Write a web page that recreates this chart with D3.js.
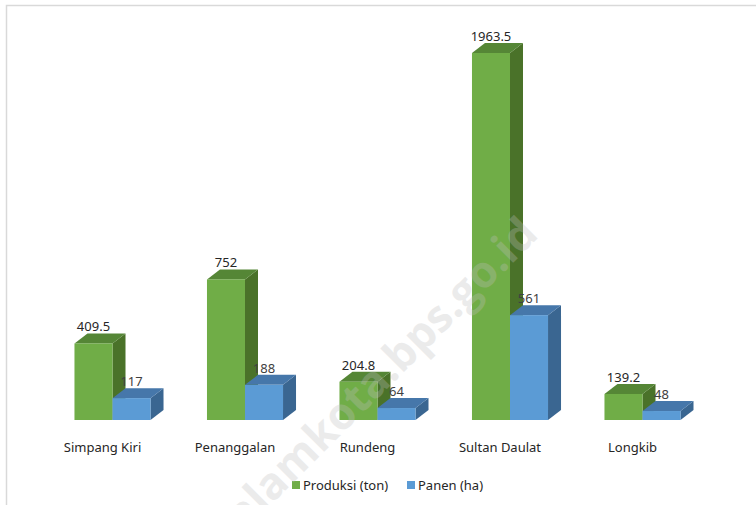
<!DOCTYPE html>
<html lang="id">
<head>
  <meta charset="UTF-8" />
  <title>Produksi dan Panen</title>
  <script src="https://d3js.org/d3.v7.min.js"></script>
  <style>
    html, body { margin: 0; padding: 0; background: #fff; }
    svg { display: block; font-family: "Noto Sans", "Open Sans", sans-serif; }
    .cat-label { font-size: 13px; fill: #262626; text-anchor: middle; }
    .val-label { font-size: 13px; text-anchor: middle; }
    .legend-text { font-size: 13px; fill: #262626; }
    .watermark { font-family: "Open Sans", sans-serif; font-weight: bold; font-size: 44px; fill: #bfbfbf; opacity: 0.3; }
  </style>
</head>
<body>
  <svg width="756" height="505"></svg>
  <script>
    const categories = ["Simpang Kiri", "Penanggalan", "Rundeng", "Sultan Daulat", "Longkib"];
    const seriesNames = ["Produksi (ton)", "Panen (ha)"];
    const produksi = [409.5, 752, 204.8, 1963.5, 139.2];
    const panen = [117, 188, 64, 561, 48];

    const colors = {
      "Produksi (ton)": { front: "#70ad47", side: "#4a7229", top: "#558636", text: "#262626" },
      "Panen (ha)": { front: "#5b9bd5", side: "#3a6691", top: "#4677aa", text: "#404040" }
    };

    const values = { "Produksi (ton)": produksi, "Panen (ha)": panen };
    const depthX = 13, depthY = 10;

    const svg = d3.select("svg");

    // frame
    svg.append("rect")
      .attr("x", 6.5).attr("y", 5.5)
      .attr("width", 800).attr("height", 600)
      .attr("fill", "none")
      .attr("stroke", "#d9d9d9")
      .attr("stroke-width", 1.5);

    const x = d3.scaleBand()
      .domain(categories)
      .range([46.25, 708.75])
      .paddingInner(0.426)
      .paddingOuter(0.213);

    const xs = d3.scaleBand()
      .domain(seriesNames)
      .range([0, x.bandwidth()]);

    const y = d3.scaleLinear()
      .domain([0, d3.max(produksi)])
      .range([420, 53]);

    const bars = [];
    categories.forEach((c, i) => {
      seriesNames.forEach(s => bars.push({ cat: c, series: s, value: values[s][i] }));
    });

    const g = svg.append("g");

    bars.forEach(d => {
      const x0 = x(d.cat) + xs(d.series);
      const w = xs.bandwidth();
      const yt = y(d.value);
      const yb = y(0);
      const col = colors[d.series];
      const bar = g.append("g");
      // side face
      bar.append("path")
        .attr("d", `M${x0 + w},${yb} L${x0 + w + depthX},${yb - depthY} L${x0 + w + depthX},${yt - depthY} L${x0 + w},${yt} Z`)
        .attr("fill", col.side);
      // top face
      bar.append("path")
        .attr("d", `M${x0},${yt} L${x0 + depthX},${yt - depthY} L${x0 + w + depthX},${yt - depthY} L${x0 + w},${yt} Z`)
        .attr("fill", col.top);
      // front face
      bar.append("rect")
        .attr("x", x0).attr("y", yt)
        .attr("width", w).attr("height", yb - yt)
        .attr("fill", col.front);
      bar.append("text")
        .attr("class", "val-label")
        .attr("x", x0 + w / 2)
        .attr("y", yt - depthY - 2)
        .attr("fill", col.text)
        .text(d.value);
    });

    svg.append("g").selectAll("text")
      .data(categories)
      .enter()
      .append("text")
      .attr("class", "cat-label")
      .attr("x", d => x(d) + x.bandwidth() / 2 - 10)
      .attr("y", 452)
      .text(d => d);

    // legend
    const legendX = [292, 407];
    const legend = svg.append("g");
    seriesNames.forEach((s, i) => {
      legend.append("rect")
        .attr("x", legendX[i]).attr("y", 481)
        .attr("width", 8).attr("height", 8)
        .attr("fill", colors[s].front);
      legend.append("text")
        .attr("class", "legend-text")
        .attr("x", legendX[i] + 11).attr("y", 489.5)
        .text(s);
    });

    // watermark
    svg.append("text")
      .attr("class", "watermark")
      .attr("transform", "translate(540,236) rotate(-45)")
      .attr("text-anchor", "end")
      .text("subulussalamkota.bps.go.id");
  </script>
</body>
</html>
